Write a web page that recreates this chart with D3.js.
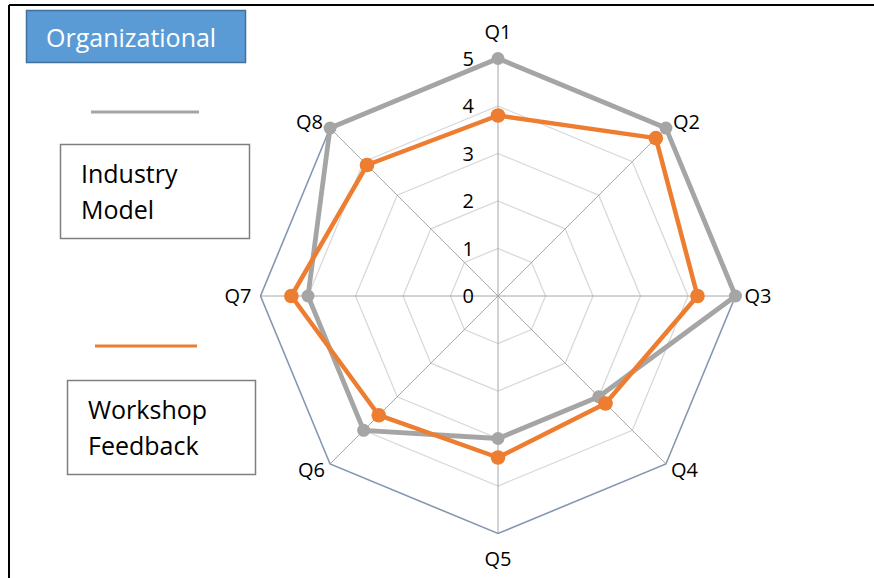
<!DOCTYPE html>
<html>
<head>
<meta charset="utf-8">
<script src="https://cdn.jsdelivr.net/npm/d3@7"></script>
<style>
  body { margin: 0; background: #fff; }
  svg { display: block; font-family: "Open Sans", "Noto Sans", sans-serif; }
</style>
</head>
<body>
<div class="chart"></div>
<script>
// questions around the radar
var questions = ['Q1', 'Q2', 'Q3', 'Q4', 'Q5', 'Q6', 'Q7', 'Q8'];
// scores
var industryModel = [5, 5, 5, 3, 3, 4, 4, 5];
var workshopFeedback = [3.8, 4.7, 4.2, 3.2, 3.4, 3.55, 4.35, 3.9];
var ticks = [0, 1, 2, 3, 4, 5];

var width = 874, height = 578;
var cx = 498, cy = 296;

var svg = d3.select('.chart').append('svg')
    .attr('width', width)
    .attr('height', height);

// frame (top and left edges only)
svg.append('line').attr('x1', 9).attr('y1', 5).attr('x2', width).attr('y2', 5)
    .attr('stroke', '#000').attr('stroke-width', 2);
svg.append('line').attr('x1', 9).attr('y1', 5).attr('x2', 9).attr('y2', height)
    .attr('stroke', '#000').attr('stroke-width', 2);

var r = d3.scaleLinear().domain([0, 5]).range([0, 237.5]);
var angle = d3.scaleLinear().domain([0, questions.length]).range([0, 2 * Math.PI]);

var g = svg.append('g').attr('transform', 'translate(' + cx + ',' + cy + ')');

function pt(i, v) {
  var a = angle(i);
  return [Math.sin(a) * r(v), -Math.cos(a) * r(v)];
}

var ring = d3.lineRadial()
    .angle(function(d, i) { return angle(i); })
    .radius(function(d) { return r(d); })
    .curve(d3.curveLinearClosed);

// grid rings
g.append('g').attr('class', 'rings')
  .selectAll('path')
  .data(ticks.filter(function(t) { return t > 0 && t < 5; }))
  .enter().append('path')
    .attr('d', function(t) { return ring(questions.map(function() { return t; })); })
    .attr('fill', 'none')
    .attr('stroke', '#d9d9d9')
    .attr('stroke-width', 1.3);

// spokes
g.append('g').attr('class', 'spokes')
  .selectAll('line')
  .data(questions)
  .enter().append('line')
    .attr('x1', 0).attr('y1', 0)
    .attr('x2', function(d, i) { return pt(i, 5)[0]; })
    .attr('y2', function(d, i) { return pt(i, 5)[1]; })
    .attr('stroke', '#a6a6a6')
    .attr('stroke-width', 1);

// outer ring
g.append('path')
    .attr('d', ring(questions.map(function() { return 5; })))
    .attr('fill', 'none')
    .attr('stroke', '#8497b0')
    .attr('stroke-width', 1.6);

// value labels
g.append('g').attr('class', 'ticks')
  .selectAll('text')
  .data(ticks)
  .enter().append('text')
    .attr('x', -24)
    .attr('y', function(t) { return -r(t); })
    .attr('dy', '0.35em')
    .attr('text-anchor', 'end')
    .attr('font-size', 20)
    .attr('fill', '#000')
    .text(function(t) { return t; });

// question labels
var labelPos = [
  { dx: 0, dy: -27, anchor: 'middle' },
  { dx: 7, dy: -6, anchor: 'start' },
  { dx: 9, dy: 0, anchor: 'start' },
  { dx: 5, dy: 6, anchor: 'start' },
  { dx: 0, dy: 25, anchor: 'middle' },
  { dx: -5, dy: 6, anchor: 'end' },
  { dx: -9, dy: 0, anchor: 'end' },
  { dx: -7, dy: -6, anchor: 'end' }
];
g.append('g').attr('class', 'qlabels')
  .selectAll('text')
  .data(questions)
  .enter().append('text')
    .attr('x', function(d, i) { return pt(i, 5)[0] + labelPos[i].dx; })
    .attr('y', function(d, i) { return pt(i, 5)[1] + labelPos[i].dy; })
    .attr('dy', '0.35em')
    .attr('text-anchor', function(d, i) { return labelPos[i].anchor; })
    .attr('font-size', 20)
    .attr('fill', '#000')
    .text(function(d) { return d; });

function drawSeries(values, color, lw, mr) {
  var s = g.append('g');
  s.append('path')
      .attr('d', ring(values))
      .attr('fill', 'none')
      .attr('stroke', color)
      .attr('stroke-width', lw)
      .attr('stroke-linejoin', 'round');
  s.selectAll('circle')
    .data(values)
    .enter().append('circle')
      .attr('cx', function(d, i) { return pt(i, d)[0]; })
      .attr('cy', function(d, i) { return pt(i, d)[1]; })
      .attr('r', mr)
      .attr('fill', color);
}

drawSeries(industryModel, '#a5a5a5', 4.8, 6.5);
drawSeries(workshopFeedback, '#ed7d31', 4.5, 7.3);

// title box
svg.append('rect')
    .attr('x', 26.5).attr('y', 10.5).attr('width', 219).attr('height', 52)
    .attr('fill', '#5b9bd5').attr('stroke', '#41719c').attr('stroke-width', 1.5);
svg.append('text')
    .attr('x', 46).attr('y', 47)
    .attr('font-size', 25)
    .attr('fill', '#fff')
    .text('Organizational');

// legend
var legend = [
  { name: ['Industry', 'Model'], color: '#a5a5a5', line: [91, 199, 112], box: [60, 144, 189, 94], tx: 81 },
  { name: ['Workshop', 'Feedback'], color: '#ed7d31', line: [95, 197, 346], box: [67, 380, 188, 94], tx: 88 }
];
var lg = svg.append('g').attr('class', 'legend')
  .selectAll('g')
  .data(legend)
  .enter().append('g');
lg.append('line')
    .attr('x1', function(d) { return d.line[0]; })
    .attr('x2', function(d) { return d.line[1]; })
    .attr('y1', function(d) { return d.line[2]; })
    .attr('y2', function(d) { return d.line[2]; })
    .attr('stroke', function(d) { return d.color; })
    .attr('stroke-width', 3);
lg.append('rect')
    .attr('x', function(d) { return d.box[0] + 0.5; })
    .attr('y', function(d) { return d.box[1] + 0.5; })
    .attr('width', function(d) { return d.box[2]; })
    .attr('height', function(d) { return d.box[3]; })
    .attr('fill', '#fff')
    .attr('stroke', '#7f7f7f')
    .attr('stroke-width', 1.5);
lg.each(function(d) {
  var t = d3.select(this).append('text')
      .attr('font-size', 25)
      .attr('fill', '#000');
  d.name.forEach(function(w, k) {
    t.append('tspan')
        .attr('x', d.tx)
        .attr('y', d.box[1] + 39 + k * 36)
        .text(w);
  });
});
</script>
</body>
</html>
